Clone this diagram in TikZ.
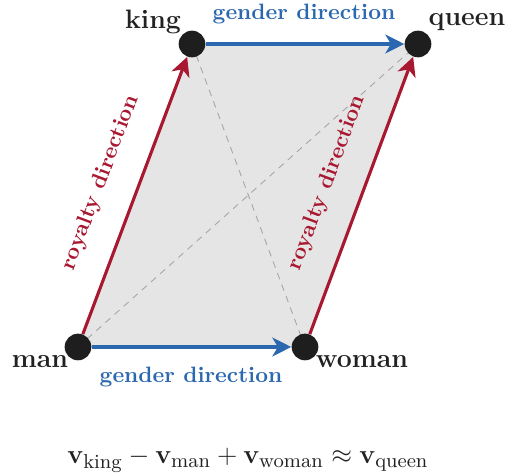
\documentclass[tikz,border=0pt]{standalone}
\usepackage{amsmath,bm}
\usetikzlibrary{arrows.meta}
\definecolor{royred}{RGB}{168,24,48}
\definecolor{genblue}{RGB}{44,104,176}
\definecolor{dotc}{RGB}{30,30,30}
\definecolor{txt}{RGB}{34,34,34}
\definecolor{fillg}{RGB}{229,229,229}
\begin{document}
\begin{tikzpicture}[x=0.45pt,y=-0.45pt,
  dot/.style={circle,fill=dotc,minimum size=12pt,inner sep=0pt},
  word/.style={font=\large\bfseries,text=txt},
  royal/.style={draw=royred,line width=1.4pt,-{Stealth[length=8.5pt,width=8.5pt,inset=2.5pt]}},
  gend/.style={draw=genblue,line width=1.4pt,-{Stealth[length=8.5pt,width=8.5pt,inset=2.5pt]}},
  rlab/.style={font=\bfseries,text=royred},
  glab/.style={font=\bfseries,text=genblue},
  diag/.style={draw=gray!70,line width=0.4pt,dash pattern=on 3pt off 2.5pt}]
\useasboundingbox (0,0) rectangle (507,473);
\fill[fillg] (78,347) -- (192,44) -- (418,44) -- (305,347) -- cycle;
\coordinate (cman) at (78,347);
\coordinate (cwoman) at (305,347);
\coordinate (cking) at (192,44);
\coordinate (cqueen) at (418,44);
\draw[diag] (cman) -- (cqueen);
\draw[diag] (cking) -- (cwoman);
\node[dot] (man) at (cman) {};
\node[dot] (woman) at (cwoman) {};
\node[dot] (king) at (cking) {};
\node[dot] (queen) at (cqueen) {};
\draw[royal] (man) -- (king) node[midway,sloped,above=8pt,rlab] {royalty direction};
\draw[royal] (woman) -- (queen) node[midway,sloped,above=8pt,rlab] {royalty direction};
\draw[gend] (king) -- (queen);
\draw[gend] (man) -- (woman);
\node[glab] (gtop) at (304,14) {gender direction};
\node[glab] (gbot) at (191,377) {gender direction};
\node[word] (lking) at (153,22) {king};
\node[word] (lqueen) at (467,22) {queen};
\node[word] (lman) at (40,362) {man};
\node[word] (lwoman) at (362,362) {woman};
\node[text=txt,font=\fontsize{12.9}{15}\selectfont] (eq) at (248,460) {$\mathbf{v}_{\text{king}}-\mathbf{v}_{\text{man}}+\mathbf{v}_{\text{woman}}\approx\mathbf{v}_{\text{queen}}$};
\end{tikzpicture}
\end{document}
